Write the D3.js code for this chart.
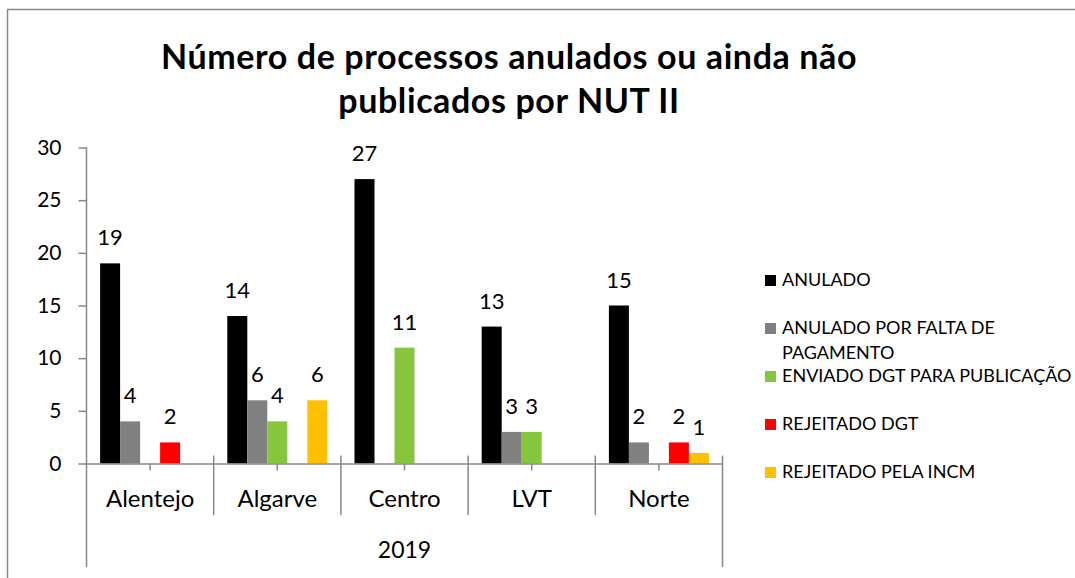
<!DOCTYPE html>
<html>
<head>
<meta charset="utf-8">
<script src="https://cdn.jsdelivr.net/npm/d3@7"></script>
<style>
  body { margin: 0; background: #fff; }
  text { font-family: Lato, "Open Sans", sans-serif; fill: #000; }
</style>
</head>
<body>
<svg width="1075" height="578"></svg>
<script>
(function (d3) {
  "use strict";

  // chart data
  var categories = ["Alentejo", "Algarve", "Centro", "LVT", "Norte"];
  var groupLabel = "2019";
  var seriesNames = [
    "ANULADO",
    "ANULADO POR FALTA DE PAGAMENTO",
    "ENVIADO DGT PARA PUBLICAÇÃO",
    "REJEITADO DGT",
    "REJEITADO PELA INCM"
  ];
  var seriesColors = ["#000000", "#808080", "#85c63c", "#ff0000", "#ffc000"];
  var anulado = [19, 14, 27, 13, 15];
  var faltaPagamento = [4, 6, null, 3, 2];
  var enviadoDgt = [null, 4, 11, 3, null];
  var rejeitadoDgt = [2, null, null, null, 2];
  var rejeitadoIncm = [null, 6, null, null, 1];
  var seriesValues = [anulado, faltaPagamento, enviadoDgt, rejeitadoDgt, rejeitadoIncm];
  var yTicks = [0, 5, 10, 15, 20, 25, 30];
  var titleLines = ["Número de processos anulados ou ainda não", "publicados por NUT II"];

  var svg = d3.select("svg");
  var axisColor = "#878787";

  // outer frame (only top and left edges are visible)
  svg.append("path")
    .attr("d", "M7.5,578 L7.5,9.5 L1075,9.5")
    .attr("fill", "none")
    .attr("stroke", axisColor)
    .attr("stroke-width", 1.5);

  // title
  svg.append("g")
    .selectAll("text")
    .data(titleLines)
    .join("text")
    .attr("x", 509)
    .attr("y", function (d, i) { return 69 + i * 44; })
    .attr("text-anchor", "middle")
    .attr("font-size", 34)
    .attr("letter-spacing", 0.6)
    .attr("font-weight", "bold")
    .text(function (d) { return d; });

  var plotLeft = 86.5;
  var plotRight = 722.5;
  var plotTop = 147.5;
  var plotBottom = 463.5;

  var x = d3.scaleBand()
    .domain(categories)
    .range([plotLeft, plotRight])
    .padding(0);

  var xInner = d3.scaleBand()
    .domain(d3.range(seriesNames.length))
    .range([0, x.bandwidth()])
    .paddingInner(0)
    .paddingOuter(0.68);

  var y = d3.scaleLinear()
    .domain([0, 30])
    .range([plotBottom, plotTop]);

  // bars
  var groups = svg.append("g")
    .selectAll("g")
    .data(categories)
    .join("g")
    .attr("transform", function (c) { return "translate(" + x(c) + ",0)"; });

  var cells = groups.selectAll("g")
    .data(function (c, ci) {
      return seriesValues.map(function (vals, si) {
        return { s: si, v: vals[ci] };
      }).filter(function (d) { return d.v != null; });
    })
    .join("g");

  cells.append("rect")
    .attr("x", function (d) { return xInner(d.s); })
    .attr("y", function (d) { return y(d.v); })
    .attr("width", xInner.bandwidth())
    .attr("height", function (d) { return plotBottom - y(d.v); })
    .attr("fill", function (d) { return seriesColors[d.s]; });

  cells.append("text")
    .attr("x", function (d) { return xInner(d.s) + xInner.bandwidth() / 2; })
    .attr("y", function (d) { return y(d.v) - 18; })
    .attr("text-anchor", "middle")
    .attr("font-size", 22)
    .text(function (d) { return d.v; });

  // y axis
  var yAxis = svg.append("g")
    .attr("transform", "translate(" + plotLeft + ",0)")
    .call(d3.axisLeft(y).tickValues(yTicks).tickSize(8).tickPadding(17).tickSizeOuter(0));
  yAxis.select(".domain").remove();
  yAxis.selectAll("line").attr("stroke", axisColor).attr("stroke-width", 1.5);
  yAxis.selectAll("text").attr("font-size", 21).attr("font-family", "Lato");

  svg.append("line")
    .attr("x1", plotLeft).attr("x2", plotLeft)
    .attr("y1", plotTop).attr("y2", 567)
    .attr("stroke", axisColor)
    .attr("stroke-width", 1.5);

  // x axis (first level)
  var xAxis = svg.append("g")
    .attr("transform", "translate(0," + plotBottom + ")")
    .call(d3.axisBottom(x).tickSize(7).tickPadding(19.5).tickSizeOuter(0));
  xAxis.select(".domain").attr("stroke", axisColor).attr("stroke-width", 1.5);
  xAxis.selectAll("line").attr("stroke", axisColor).attr("stroke-width", 1.5);
  xAxis.selectAll("text").attr("font-size", 24).attr("font-family", "Lato");

  // category separators
  svg.append("g")
    .selectAll("line")
    .data(categories.slice(1))
    .join("line")
    .attr("x1", function (c) { return x(c); })
    .attr("x2", function (c) { return x(c); })
    .attr("y1", plotBottom - 8)
    .attr("y2", 515)
    .attr("stroke", axisColor)
    .attr("stroke-width", 1.5);

  svg.append("line")
    .attr("x1", plotRight).attr("x2", plotRight)
    .attr("y1", plotBottom - 8).attr("y2", 567)
    .attr("stroke", axisColor)
    .attr("stroke-width", 1.5);

  // second level label
  svg.append("text")
    .attr("x", (plotLeft + plotRight) / 2)
    .attr("y", 558)
    .attr("text-anchor", "middle")
    .attr("font-size", 23)
    .text(groupLabel);

  // legend
  var legend = svg.append("g")
    .attr("transform", "translate(765,0)");

  var items = legend.selectAll("g")
    .data(seriesNames)
    .join("g")
    .attr("transform", function (d, i) { return "translate(0," + (286 + i * 48) + ")"; });

  items.append("rect")
    .attr("x", 0)
    .attr("y", -11)
    .attr("width", 11)
    .attr("height", 11)
    .attr("fill", function (d, i) { return seriesColors[i]; });

  items.append("text")
    .attr("x", 17)
    .attr("y", 0)
    .attr("font-size", 18)
    .each(function (d) {
      var t = d3.select(this);
      var words = d.split(" ");
      var line = [];
      var tspan = t.append("tspan").attr("x", 17).attr("dy", 0);
      words.forEach(function (w) {
        line.push(w);
        tspan.text(line.join(" "));
        if (tspan.node().getComputedTextLength() > 300 && line.length > 1) {
          line.pop();
          tspan.text(line.join(" "));
          line = [w];
          tspan = t.append("tspan").attr("x", 17).attr("dy", 25).text(w);
        }
      });
    });
})(d3);
</script>
</body>
</html>
